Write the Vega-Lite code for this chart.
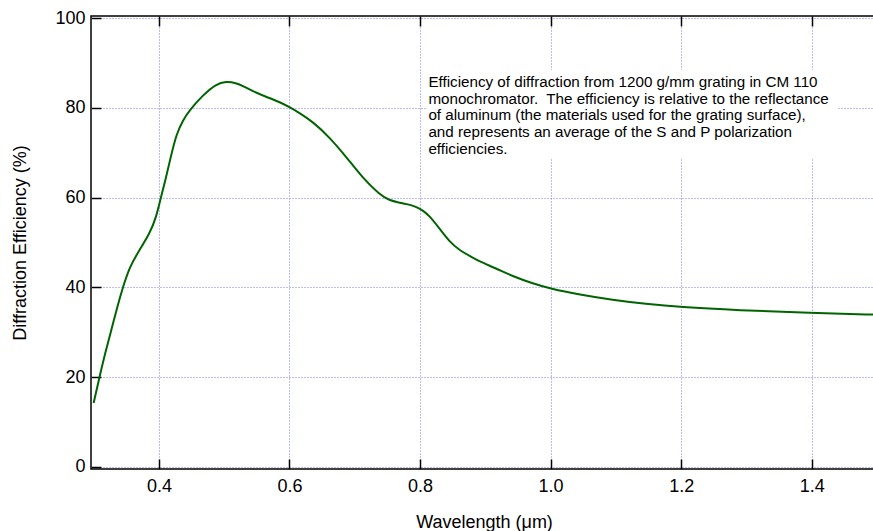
{
  "$schema": "https://vega.github.io/schema/vega-lite/v6.json",
  "autosize": {"type": "none"},
  "width": 786,
  "height": 453,
  "padding": {"left": 91, "top": 16, "right": 0, "bottom": 62},
  "background": "white",
  "config": {
    "font": "Liberation Sans",
    "view": {"stroke": "black", "strokeWidth": 1.5},
    "axis": {
      "domain": false,
      "grid": true,
      "gridColor": "#7878f0",
      "gridDash": [1, 2],
      "gridWidth": 1,
      "gridOpacity": 1,
      "tickColor": "black",
      "tickSize": -10,
      "tickWidth": 1.5,
      "labelFont": "Liberation Sans",
      "labelFontSize": 18,
      "labelColor": "black",
      "titleFont": "Liberation Sans",
      "titleFontSize": 18,
      "titleFontWeight": "normal",
      "titleColor": "black"
    }
  },
  "resolve": {"axis": {"x": "independent"}},
  "layer": [
    {
      "data": {"values": [{"x1": 0.811, "x2": 1.439, "y1": 68.8, "y2": 88.4}]},
      "mark": {"type": "rect", "fill": "white"},
      "encoding": {
        "x": {"field": "x1", "type": "quantitative", "scale": {"domain": [0.296, 1.5], "nice": false, "zero": false},
              "axis": {"orient": "top", "labels": false, "title": null, "grid": true, "values": [0.4, 0.6, 0.8, 1.0, 1.2, 1.4]}},
        "x2": {"field": "x2"},
        "y": {"field": "y1", "type": "quantitative"},
        "y2": {"field": "y2"}
      }
    },
    {
      "data": {"values": [
        {"wavelength": 0.300, "efficiency": 14.2},
        {"wavelength": 0.309, "efficiency": 20.0},
        {"wavelength": 0.318, "efficiency": 25.5},
        {"wavelength": 0.327, "efficiency": 30.4},
        {"wavelength": 0.336, "efficiency": 35.5},
        {"wavelength": 0.345, "efficiency": 40.1},
        {"wavelength": 0.355, "efficiency": 44.5},
        {"wavelength": 0.370, "efficiency": 48.3},
        {"wavelength": 0.386, "efficiency": 52.0},
        {"wavelength": 0.396, "efficiency": 55.7},
        {"wavelength": 0.402, "efficiency": 59.5},
        {"wavelength": 0.410, "efficiency": 63.9},
        {"wavelength": 0.418, "efficiency": 69.0},
        {"wavelength": 0.427, "efficiency": 74.3},
        {"wavelength": 0.437, "efficiency": 77.3},
        {"wavelength": 0.447, "efficiency": 79.5},
        {"wavelength": 0.467, "efficiency": 82.8},
        {"wavelength": 0.488, "efficiency": 85.4},
        {"wavelength": 0.503, "efficiency": 85.9},
        {"wavelength": 0.518, "efficiency": 85.6},
        {"wavelength": 0.530, "efficiency": 84.8},
        {"wavelength": 0.544, "efficiency": 83.7},
        {"wavelength": 0.564, "efficiency": 82.5},
        {"wavelength": 0.585, "efficiency": 81.3},
        {"wavelength": 0.600, "efficiency": 80.2},
        {"wavelength": 0.615, "efficiency": 78.9},
        {"wavelength": 0.636, "efficiency": 76.9},
        {"wavelength": 0.661, "efficiency": 73.5},
        {"wavelength": 0.687, "efficiency": 69.1},
        {"wavelength": 0.712, "efficiency": 64.4},
        {"wavelength": 0.738, "efficiency": 60.7},
        {"wavelength": 0.753, "efficiency": 59.4},
        {"wavelength": 0.768, "efficiency": 58.9},
        {"wavelength": 0.779, "efficiency": 58.6},
        {"wavelength": 0.794, "efficiency": 58.0},
        {"wavelength": 0.805, "efficiency": 57.1},
        {"wavelength": 0.814, "efficiency": 56.0},
        {"wavelength": 0.830, "efficiency": 53.1},
        {"wavelength": 0.845, "efficiency": 50.2},
        {"wavelength": 0.860, "efficiency": 48.3},
        {"wavelength": 0.881, "efficiency": 46.6},
        {"wavelength": 0.891, "efficiency": 45.8},
        {"wavelength": 0.921, "efficiency": 43.9},
        {"wavelength": 0.942, "efficiency": 42.5},
        {"wavelength": 0.970, "efficiency": 41.0},
        {"wavelength": 1.000, "efficiency": 39.7},
        {"wavelength": 1.044, "efficiency": 38.4},
        {"wavelength": 1.095, "efficiency": 37.2},
        {"wavelength": 1.146, "efficiency": 36.3},
        {"wavelength": 1.197, "efficiency": 35.6},
        {"wavelength": 1.288, "efficiency": 34.9},
        {"wavelength": 1.398, "efficiency": 34.3},
        {"wavelength": 1.500, "efficiency": 33.9}
      ]},
      "mark": {"type": "line", "color": "#006400", "strokeWidth": 2, "interpolate": "basis"},
      "encoding": {
        "x": {"field": "wavelength", "type": "quantitative", "scale": {"domain": [0.296, 1.5], "nice": false, "zero": false},
              "axis": {"orient": "bottom", "grid": false, "title": "Wavelength (μm)", "values": [0.4, 0.6, 0.8, 1.0, 1.2, 1.4], "format": ".1f", "labelPadding": 18, "titlePadding": 18}},
        "y": {"field": "efficiency", "type": "quantitative", "scale": {"domain": [-0.5, 100.5], "nice": false, "zero": false},
              "axis": {"title": "Diffraction Efficiency (%)", "values": [0, 20, 40, 60, 80, 100], "labelPadding": 16, "titlePadding": 25}}
      }
    },
    {
      "data": {"values": [{"x": 0.8128, "y": 84.67, "note": "Efficiency of diffraction from 1200 g/mm grating in CM 110\nmonochromator.\u00a0 The efficiency is relative to the reflectance\nof aluminum (the materials used for the grating surface),\nand represents an average of the S and P polarization\nefficiencies."}]},
      "mark": {"type": "text", "align": "left", "baseline": "alphabetic", "lineBreak": "\n", "lineHeight": 16.65, "fontSize": 15.2, "font": "Liberation Sans", "color": "black"},
      "encoding": {
        "x": {"field": "x", "type": "quantitative", "axis": null},
        "y": {"field": "y", "type": "quantitative"},
        "text": {"field": "note"}
      }
    }
  ]
}
